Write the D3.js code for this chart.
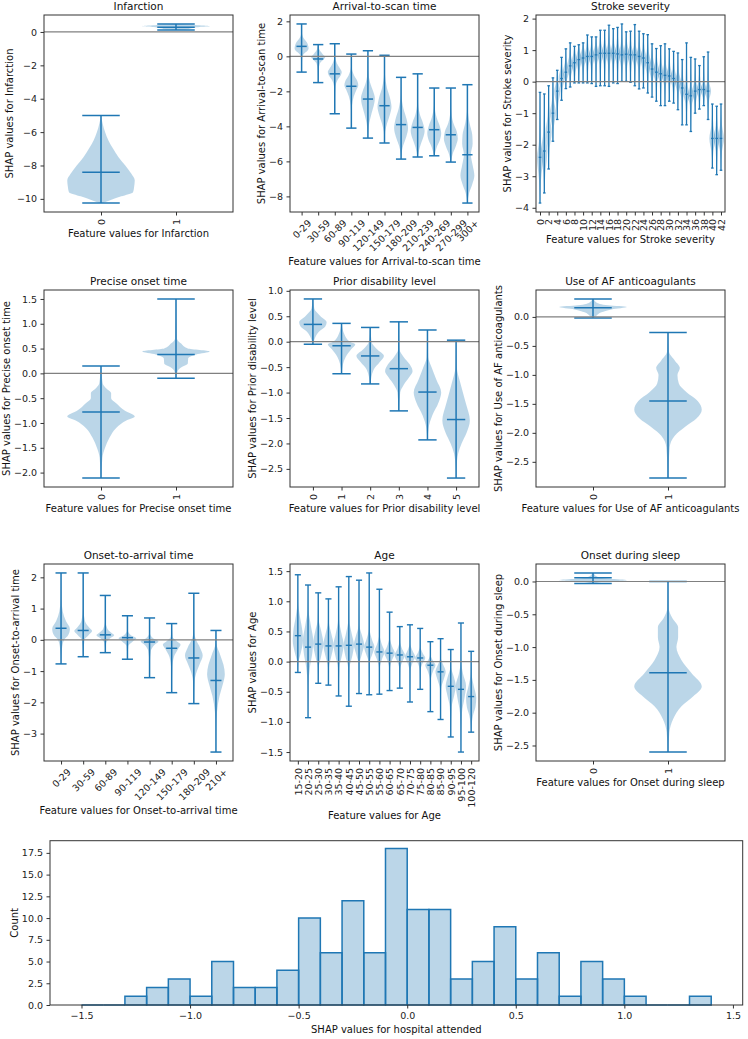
<!DOCTYPE html>
<html>
<head>
<meta charset="utf-8">
<style>
  body { margin: 0; background: #fff; font-family: "DejaVu Sans", sans-serif; }
  svg { display: block; }
  .title { font-size: 10.5px; text-anchor: middle; fill: #111; }
  .lab { font-size: 10px; text-anchor: middle; fill: #111; }
  .tick text { font-size: 9.5px; fill: #222; font-family: "DejaVu Sans", sans-serif; }
</style>
</head>
<body>
<script src="https://cdn.jsdelivr.net/npm/d3@7"></script>
<script>

// ---------- data ----------
// violin shapes are [value, relative width] pairs, top to bottom

var infLabels = ["0", "1"];
var infMax = [-5.0, 0.48], infMin = [-10.25, 0.12], infMed = [-8.4, 0.28];
var infShapes = [
  [[-5.0,0],[-5.5,0.05],[-6.0,0.12],[-6.5,0.22],[-7.0,0.36],[-7.5,0.52],[-8.0,0.72],[-8.5,0.9],[-8.9,1.0],[-9.3,0.98],[-9.6,0.95],[-9.85,0.6],[-10.1,0.25],[-10.25,0.05]],
  [[0.48,0.05],[0.44,0.3],[0.38,0.8],[0.34,1.0],[0.3,0.7],[0.22,0.45],[0.15,0.3],[0.12,0.1]]
];
var infTicks = [0, -2, -4, -6, -8, -10];

var arrLabels = ["0-29","30-59","60-89","90-119","120-149","150-179","180-209","210-239","240-269","270-299","300+"];
var arrMax = [1.85, 0.67, 0.72, 0.13, 0.32, 0.06, -1.2, -1.0, -1.81, -1.81, -1.62];
var arrMin = [-0.9, -1.5, -3.28, -4.1, -4.67, -4.95, -5.87, -5.75, -5.68, -6.04, -8.38];
var arrMed = [0.57, -0.15, -1.0, -1.71, -2.44, -2.82, -3.9, -4.06, -4.19, -4.48, -5.62];
var arrShapes = [
  [[1.85,0.02],[1.3,0.06],[1.0,0.35],[0.8,0.75],[0.6,0.95],[0.45,1.0],[0.3,0.8],[0.15,0.35],[0.0,0.12],[-0.5,0.04],[-0.9,0.01]],
  [[0.67,0.02],[0.4,0.15],[0.15,0.6],[-0.05,1.0],[-0.2,0.7],[-0.4,0.25],[-0.8,0.06],[-1.5,0.01]],
  [[0.72,0.01],[0.0,0.05],[-0.4,0.3],[-0.7,0.75],[-0.9,1.0],[-1.1,0.85],[-1.35,0.4],[-1.7,0.12],[-2.3,0.04],[-3.28,0.01]],
  [[0.13,0.01],[-0.6,0.05],[-1.1,0.4],[-1.45,0.9],[-1.65,1.0],[-1.9,0.75],[-2.3,0.35],[-2.8,0.1],[-3.4,0.03],[-4.1,0.01]],
  [[0.32,0.01],[-0.8,0.05],[-1.5,0.3],[-2.0,0.75],[-2.4,1.0],[-2.8,0.85],[-3.3,0.5],[-3.8,0.2],[-4.3,0.05],[-4.67,0.01]],
  [[0.06,0.01],[-1.0,0.06],[-1.8,0.35],[-2.4,0.8],[-2.9,1.0],[-3.3,0.8],[-3.8,0.4],[-4.3,0.1],[-4.95,0.01]],
  [[-1.2,0.01],[-2.2,0.05],[-3.0,0.35],[-3.6,0.8],[-4.1,1.0],[-4.6,0.75],[-5.1,0.3],[-5.5,0.08],[-5.87,0.01]],
  [[-1.0,0.01],[-2.5,0.04],[-3.3,0.3],[-3.8,0.75],[-4.25,1.0],[-4.7,0.75],[-5.2,0.3],[-5.75,0.02]],
  [[-1.81,0.01],[-2.8,0.05],[-3.5,0.35],[-4.0,0.8],[-4.4,1.0],[-4.8,0.8],[-5.2,0.35],[-5.68,0.03]],
  [[-1.81,0.01],[-3.0,0.05],[-3.8,0.35],[-4.3,0.85],[-4.7,1.0],[-5.1,0.75],[-5.6,0.25],[-6.04,0.02]],
  [[-1.62,0.01],[-3.0,0.05],[-3.8,0.3],[-4.5,0.7],[-5.0,0.75],[-5.6,0.5],[-6.2,0.75],[-6.8,1.0],[-7.3,0.7],[-7.8,0.25],[-8.38,0.02]]
];
var arrTicks = [2, 0, -2, -4, -6, -8];

var strokeTicks = [0,2,4,6,8,10,12,14,16,18,20,22,24,26,28,30,32,34,36,38,40,42];
var strokeMax = [-0.34,-0.39,-0.13,0.12,0.36,0.77,1.04,1.23,1.12,1.17,1.23,1.48,1.42,1.42,1.63,1.63,1.79,1.68,1.72,1.83,1.58,1.6,1.81,1.6,1.52,1.49,1.2,1.05,1.14,1.2,1.04,0.96,0.91,0.7,1.23,0.77,0.72,0.51,0.79,0.94,-0.71,-0.78,-0.71];
var strokeMin = [-3.85,-3.53,-2.77,-1.89,-1.2,-0.59,-0.22,-0.17,-0.04,-0.04,-0.04,-0.04,-0.06,-0.15,-0.13,-0.13,-0.15,-0.04,-0.06,0.01,0.01,-0.02,-0.13,-0.23,-0.2,-0.36,-0.49,-0.62,-0.76,-0.76,-0.62,-0.68,-0.89,-1.37,-1.37,-1.58,-1.0,-0.87,-0.76,-1.2,-2.74,-2.95,-2.81];
var strokeMed = [-2.4,-2.2,-1.6,-1.0,-0.3,0.1,0.3,0.5,0.6,0.7,0.75,0.8,0.8,0.85,0.9,0.9,0.9,0.9,0.88,0.85,0.87,0.85,0.85,0.8,0.75,0.6,0.4,0.3,0.25,0.2,0.18,0.1,0.0,-0.2,-0.4,-0.45,-0.3,-0.25,-0.25,-0.3,-1.8,-1.8,-1.8];
var strokeHi = [-1.9,-1.6,-1.1,-0.6,0.0,0.4,0.6,0.8,0.9,1.0,1.05,1.1,1.1,1.15,1.2,1.2,1.2,1.2,1.2,1.2,1.2,1.15,1.15,1.1,1.05,0.95,0.75,0.65,0.6,0.55,0.5,0.4,0.3,0.1,-0.1,-0.15,0.0,0.0,0.0,0.0,-1.4,-1.4,-1.4];
var strokeLo = [-3.1,-2.9,-2.1,-1.4,-0.7,-0.2,0.05,0.2,0.3,0.4,0.45,0.5,0.5,0.55,0.55,0.55,0.55,0.55,0.55,0.5,0.5,0.5,0.5,0.45,0.4,0.25,0.1,0.0,-0.05,-0.1,-0.1,-0.2,-0.3,-0.5,-0.7,-0.75,-0.6,-0.5,-0.5,-0.6,-2.2,-2.2,-2.2];
var strokeYTicks = [2, 1, 0, -1, -2, -3, -4];

var preLabels = ["0", "1"];
var preMax = [0.15, 1.5], preMin = [-2.11, -0.1], preMed = [-0.78, 0.38];
var preShapes = [
  [[0.15,0.01],[-0.2,0.05],[-0.3,0.15],[-0.4,0.3],[-0.5,0.3],[-0.6,0.45],[-0.75,0.7],[-0.87,1.0],[-0.95,0.75],[-1.1,0.45],[-1.3,0.25],[-1.5,0.12],[-1.7,0.04],[-2.11,0.01]],
  [[1.5,0.01],[0.7,0.03],[0.6,0.15],[0.5,0.35],[0.44,1.0],[0.38,0.6],[0.3,0.36],[0.2,0.35],[0.12,0.15],[0.05,0.05],[-0.1,0.01]]
];
var preTicks = [1.5, 1.0, 0.5, 0.0, -0.5, -1.0, -1.5, -2.0];

var priLabels = ["0", "1", "2", "3", "4", "5"];
var priMax = [0.84, 0.36, 0.28, 0.39, 0.23, 0.03];
var priMin = [-0.05, -0.63, -0.83, -1.36, -1.93, -2.68];
var priMed = [0.34, -0.08, -0.28, -0.53, -0.99, -1.53];
var priShapes = [
  [[0.84,0.02],[0.65,0.1],[0.5,0.55],[0.38,1.0],[0.3,0.9],[0.2,0.45],[0.1,0.2],[-0.05,0.03]],
  [[0.36,0.02],[0.15,0.2],[0.0,0.6],[-0.05,1.0],[-0.15,0.7],[-0.3,0.3],[-0.45,0.1],[-0.63,0.02]],
  [[0.28,0.02],[0.0,0.1],[-0.15,0.5],[-0.28,1.0],[-0.4,0.7],[-0.55,0.25],[-0.83,0.02]],
  [[0.39,0.02],[-0.15,0.05],[-0.3,0.35],[-0.45,0.8],[-0.58,1.0],[-0.7,0.75],[-0.85,0.35],[-1.0,0.1],[-1.36,0.02]],
  [[0.23,0.01],[-0.3,0.05],[-0.5,0.3],[-0.75,0.65],[-1.0,1.0],[-1.2,0.8],[-1.45,0.35],[-1.7,0.08],[-1.93,0.02]],
  [[0.03,0.01],[-0.5,0.05],[-0.8,0.3],[-1.2,0.7],[-1.55,1.0],[-1.8,0.75],[-2.0,0.4],[-2.2,0.15],[-2.45,0.04],[-2.68,0.01]]
];
var priTicks = [1.0, 0.5, 0.0, -0.5, -1.0, -1.5, -2.0, -2.5];

var afLabels = ["0", "1"];
var afMax = [0.31, -0.27], afMin = [-0.02, -2.78], afMed = [0.16, -1.45];
var afShapes = [
  [[0.31,0.02],[0.25,0.1],[0.2,0.45],[0.17,1.0],[0.13,0.55],[0.08,0.25],[0.02,0.1],[-0.02,0.02]],
  [[-0.27,0.01],[-0.6,0.03],[-0.75,0.2],[-0.88,0.35],[-1.0,0.28],[-1.15,0.32],[-1.3,0.55],[-1.45,0.88],[-1.6,1.0],[-1.75,0.85],[-1.9,0.5],[-2.05,0.2],[-2.25,0.05],[-2.78,0.01]]
];
var afTicks = [0.0, -0.5, -1.0, -1.5, -2.0, -2.5];

var otaLabels = ["0-29","30-59","60-89","90-119","120-149","150-179","180-209","210+"];
var otaMax = [2.14, 2.14, 1.42, 0.77, 0.7, 0.52, 1.49, 0.3];
var otaMin = [-0.77, -0.54, -0.41, -0.62, -1.21, -1.69, -2.04, -3.59];
var otaMed = [0.37, 0.3, 0.16, 0.07, -0.07, -0.27, -0.58, -1.3];
var otaShapes = [
  [[2.14,0.01],[1.3,0.05],[0.9,0.2],[0.6,0.55],[0.35,1.0],[0.15,0.8],[0.0,0.35],[-0.3,0.1],[-0.77,0.01]],
  [[2.14,0.01],[1.0,0.03],[0.6,0.2],[0.4,0.65],[0.28,1.0],[0.15,0.6],[0.0,0.15],[-0.54,0.01]],
  [[1.42,0.01],[0.6,0.03],[0.35,0.25],[0.2,0.8],[0.15,1.0],[0.05,0.55],[-0.1,0.1],[-0.41,0.01]],
  [[0.77,0.01],[0.3,0.05],[0.15,0.4],[0.05,1.0],[-0.05,0.6],[-0.2,0.1],[-0.62,0.01]],
  [[0.7,0.01],[0.2,0.05],[0.05,0.4],[-0.05,1.0],[-0.15,0.6],[-0.35,0.15],[-0.7,0.04],[-1.21,0.01]],
  [[0.52,0.01],[0.1,0.1],[-0.05,0.6],[-0.15,1.0],[-0.3,0.7],[-0.55,0.25],[-0.9,0.07],[-1.69,0.01]],
  [[1.49,0.01],[0.3,0.03],[0.0,0.25],[-0.25,0.7],[-0.5,1.0],[-0.75,0.7],[-1.0,0.35],[-1.3,0.1],[-2.04,0.01]],
  [[0.3,0.01],[-0.1,0.05],[-0.5,0.5],[-0.8,0.85],[-1.1,1.0],[-1.4,0.8],[-1.8,0.4],[-2.3,0.12],[-2.8,0.03],[-3.59,0.01]]
];
var otaTicks = [2, 1, 0, -1, -2, -3];

var ageLabels = ["15-20","20-25","25-30","30-35","35-40","40-45","45-50","50-55","55-60","60-65","65-70","70-75","75-80","80-85","85-90","90-95","95-100","100-120"];
var ageMax = [1.44, 1.27, 1.14, 1.04, 1.24, 1.41, 1.35, 1.47, 1.2, 0.82, 0.58, 0.61, 0.55, 0.33, 0.38, 0.2, 0.64, 0.17];
var ageMin = [-0.18, -0.93, -0.36, -0.39, -0.57, -0.74, -0.53, -0.55, -0.54, -0.48, -0.44, -0.67, -0.46, -0.83, -0.96, -1.25, -1.5, -1.17];
var ageMed = [0.43, 0.24, 0.29, 0.26, 0.26, 0.27, 0.29, 0.24, 0.16, 0.14, 0.11, 0.08, 0.06, -0.06, -0.17, -0.41, -0.46, -0.58];
var ageShapes = [
  [[1.44,0.01],[1.0,0.05],[0.75,0.4],[0.5,0.9],[0.35,1.0],[0.15,0.6],[0.0,0.15],[-0.18,0.02]],
  [[1.27,0.01],[0.85,0.1],[0.6,0.55],[0.35,1.0],[0.15,0.85],[-0.1,0.35],[-0.4,0.08],[-0.93,0.01]],
  [[1.14,0.01],[0.7,0.1],[0.5,0.6],[0.3,1.0],[0.1,0.6],[-0.1,0.1],[-0.36,0.01]],
  [[1.04,0.01],[0.65,0.1],[0.45,0.6],[0.28,1.0],[0.1,0.6],[-0.1,0.1],[-0.39,0.01]],
  [[1.24,0.01],[0.7,0.1],[0.45,0.6],[0.28,1.0],[0.1,0.65],[-0.1,0.15],[-0.57,0.01]],
  [[1.41,0.01],[0.7,0.1],[0.45,0.6],[0.28,1.0],[0.1,0.7],[-0.1,0.15],[-0.74,0.01]],
  [[1.35,0.01],[0.6,0.1],[0.4,0.7],[0.28,1.0],[0.12,0.55],[-0.05,0.1],[-0.53,0.01]],
  [[1.47,0.01],[0.55,0.08],[0.35,0.6],[0.25,1.0],[0.12,0.6],[0.0,0.15],[-0.55,0.01]],
  [[1.2,0.01],[0.45,0.05],[0.28,0.5],[0.16,1.0],[0.05,0.55],[-0.1,0.1],[-0.54,0.01]],
  [[0.82,0.01],[0.4,0.05],[0.25,0.5],[0.14,1.0],[0.03,0.5],[-0.1,0.1],[-0.48,0.01]],
  [[0.58,0.01],[0.35,0.05],[0.2,0.5],[0.11,1.0],[0.0,0.5],[-0.12,0.1],[-0.44,0.01]],
  [[0.61,0.01],[0.3,0.05],[0.18,0.5],[0.08,1.0],[-0.02,0.5],[-0.15,0.1],[-0.67,0.01]],
  [[0.55,0.01],[0.25,0.05],[0.14,0.5],[0.06,1.0],[-0.03,0.45],[-0.15,0.08],[-0.46,0.01]],
  [[0.33,0.01],[0.1,0.08],[0.0,0.6],[-0.06,1.0],[-0.15,0.55],[-0.3,0.1],[-0.83,0.01]],
  [[0.38,0.01],[0.05,0.08],[-0.05,0.5],[-0.17,1.0],[-0.3,0.6],[-0.45,0.12],[-0.96,0.01]],
  [[0.2,0.01],[-0.1,0.1],[-0.25,0.6],[-0.41,1.0],[-0.55,0.7],[-0.75,0.2],[-1.25,0.01]],
  [[0.64,0.01],[0.0,0.05],[-0.2,0.4],[-0.4,1.0],[-0.6,0.7],[-0.85,0.2],[-1.5,0.01]],
  [[0.17,0.01],[-0.2,0.1],[-0.4,0.5],[-0.6,1.0],[-0.75,0.85],[-0.9,0.35],[-1.17,0.02]]
];
var ageTicks = [1.5, 1.0, 0.5, 0.0, -0.5, -1.0, -1.5];

var slpLabels = ["0", "1"];
var slpMax = [0.13, 0.0], slpMin = [-0.03, -2.6], slpMed = [0.055, -1.39];
var slpShapes = [
  [[0.13,0.02],[0.08,0.1],[0.04,0.5],[0.02,1.0],[0.0,0.4],[-0.03,0.05]],
  [[0.0,0.01],[-0.4,0.02],[-0.55,0.12],[-0.7,0.3],[-0.85,0.3],[-1.0,0.25],[-1.2,0.4],[-1.4,0.7],[-1.6,1.0],[-1.75,0.75],[-1.9,0.4],[-2.1,0.15],[-2.3,0.04],[-2.6,0.01]]
];
var slpTicks = [0.0, -0.5, -1.0, -1.5, -2.0, -2.5];

var histBinStart = [-1.5,-1.4,-1.3,-1.2,-1.1,-1.0,-0.9,-0.8,-0.7,-0.6,-0.5,-0.4,-0.3,-0.2,-0.1,0.0,0.1,0.2,0.3,0.4,0.5,0.6,0.7,0.8,0.9,1.0,1.1,1.2,1.3];
var histCounts   = [0,0,1,2,3,1,5,2,2,4,10,6,12,6,18,11,11,3,5,9,3,6,1,5,3,1,0,0,1];
var histBinWidth = 0.1;
var histXTicks = [-1.5, -1.0, -0.5, 0.0, 0.5, 1.0, 1.5];
var histYTicks = [0, 2.5, 5, 7.5, 10, 12.5, 15, 17.5];

// ---------- layout ----------
var blue = "#1f77b4";
var colX = [44, 290, 536], rowY = [15, 290, 564], boxW = 189, boxH = 197;
var tickLen = 3.5, tickPad = 3.5;

var svg = d3.select("body").append("svg")
    .attr("width", 748).attr("height", 1039);

function styleAxis(g) {
  g.select(".domain").remove();
  g.selectAll(".tick line").attr("stroke", "#333");
}

function violinPanel(p) {
  var left = colX[p.col], top = rowY[p.row];
  var pos = p.pos || d3.range(p.shapes.length);
  var lo = d3.min(p.min), hi = d3.max(p.max), pad = (hi - lo) * 0.05;
  var x = d3.scaleLinear().domain([pos[0] - p.xm, pos[pos.length - 1] + p.xm]).range([left, left + boxW]);
  var y = d3.scaleLinear().domain([lo - pad, hi + pad]).range([top + boxH, top]);

  var g = svg.append("g");

  // bodies
  p.shapes.forEach(function(s, i) {
    var area = d3.area().curve(d3.curveMonotoneY)
      .y(function(d) { return y(d[0]); })
      .x0(function(d) { return x(pos[i] - d[1] * p.body); })
      .x1(function(d) { return x(pos[i] + d[1] * p.body); });
    g.append("path").attr("d", area(s))
      .attr("fill", blue).attr("fill-opacity", 0.3);
  });

  // bars, caps, medians
  var lw = p.lw || 1.5;
  pos.forEach(function(c, i) {
    g.append("line").attr("x1", x(c)).attr("x2", x(c))
      .attr("y1", y(p.max[i])).attr("y2", y(p.min[i]));
    [p.max[i], p.min[i], p.med[i]].forEach(function(v) {
      g.append("line").attr("x1", x(c - p.cap)).attr("x2", x(c + p.cap))
        .attr("y1", y(v)).attr("y2", y(v));
    });
  });
  g.selectAll("line").attr("stroke", blue).attr("stroke-width", lw);

  // zero line
  svg.append("line").attr("x1", left).attr("x2", left + boxW)
    .attr("y1", y(0)).attr("y2", y(0))
    .attr("stroke", "#808080").attr("stroke-width", 1.2);

  // y axis
  var ya = svg.append("g").attr("transform", "translate(" + left + ",0)")
    .call(d3.axisLeft(y).tickValues(p.yticks).tickSize(tickLen).tickPadding(tickPad)
      .tickFormat(d3.format(p.yfmt)));
  styleAxis(ya);

  // x axis
  var xa = svg.append("g").attr("transform", "translate(0," + (top + boxH) + ")")
    .call(d3.axisBottom(x).tickValues(p.xtickPos).tickSize(tickLen)
      .tickFormat(function(d, i) { return p.xtickText[i]; }));
  styleAxis(xa);
  if (p.rot === 90) {
    xa.selectAll(".tick text")
      .attr("y", 0).attr("x", -(tickLen + tickPad)).attr("dy", "0.35em")
      .attr("transform", "rotate(-90)").style("text-anchor", "end");
  } else {
    xa.selectAll(".tick text")
      .attr("y", 0).attr("x", 0).attr("dy", "0.35em").style("text-anchor", "middle")
      .attr("transform", function() {
        var L = this.getComputedTextLength(), h = 7;
        var off = (L + h) / (2 * Math.SQRT2);
        return "translate(0," + (tickLen + tickPad + off) + ") rotate(-45)";
      });
  }

  // frame
  svg.append("rect").attr("x", left).attr("y", top).attr("width", boxW).attr("height", boxH)
    .attr("fill", "none").attr("stroke", "#333").attr("stroke-width", 1);

  // texts
  svg.append("text").attr("class", "title")
    .attr("x", left + boxW / 2).attr("y", top - 5).text(p.title);

  var yb = ya.node().getBBox();
  var lx = left + yb.x - 4;
  svg.append("text").attr("class", "lab")
    .attr("transform", "translate(" + lx + "," + (top + boxH / 2) + ") rotate(-90)")
    .text("SHAP values for " + p.title);

  var xb = xa.node().getBBox();
  svg.append("text").attr("class", "lab")
    .attr("x", left + boxW / 2).attr("y", top + boxH + xb.y + xb.height + 4 + 7.6)
    .text("Feature values for " + p.title);
}

violinPanel({ title: "Infarction", col: 0, row: 0, shapes: infShapes, min: infMin, max: infMax, med: infMed,
  xm: 0.76, body: 0.45, cap: 0.25, yticks: infTicks, yfmt: "d",
  xtickPos: [0, 1], xtickText: infLabels, rot: 90 });

violinPanel({ title: "Arrival-to-scan time", col: 1, row: 0, shapes: arrShapes, min: arrMin, max: arrMax, med: arrMed,
  xm: 0.7, body: 0.42, cap: 0.31, yticks: arrTicks, yfmt: "d",
  xtickPos: d3.range(arrLabels.length), xtickText: arrLabels, rot: 45 });

violinPanel({ title: "Stroke severity", col: 2, row: 0, shapes: strokeMed.map(function(m, i) {
    return [[strokeMax[i], 0.02], [strokeHi[i], 0.35], [m, 1], [strokeLo[i], 0.35], [strokeMin[i], 0.02]];
  }), min: strokeMin, max: strokeMax, med: strokeMed,
  xm: 0.93, body: 0.7, cap: 0.3, lw: 1.3, yticks: strokeYTicks, yfmt: "d",
  xtickPos: strokeTicks, xtickText: strokeTicks.map(String), rot: 90 });

violinPanel({ title: "Precise onset time", col: 0, row: 1, shapes: preShapes, min: preMin, max: preMax, med: preMed,
  xm: 0.76, body: 0.45, cap: 0.25, yticks: preTicks, yfmt: ".1f",
  xtickPos: [0, 1], xtickText: preLabels, rot: 90 });

violinPanel({ title: "Prior disability level", col: 1, row: 1, shapes: priShapes, min: priMin, max: priMax, med: priMed,
  xm: 0.8, body: 0.48, cap: 0.32, yticks: priTicks, yfmt: ".1f",
  xtickPos: d3.range(priLabels.length), xtickText: priLabels, rot: 90 });

violinPanel({ title: "Use of AF anticoagulants", col: 2, row: 1, shapes: afShapes, min: afMin, max: afMax, med: afMed,
  xm: 0.76, body: 0.45, cap: 0.25, yticks: afTicks, yfmt: ".1f",
  xtickPos: [0, 1], xtickText: afLabels, rot: 90 });

violinPanel({ title: "Onset-to-arrival time", col: 0, row: 2, shapes: otaShapes, min: otaMin, max: otaMax, med: otaMed,
  xm: 0.77, body: 0.4, cap: 0.25, yticks: otaTicks, yfmt: "d",
  xtickPos: d3.range(otaLabels.length), xtickText: otaLabels, rot: 45 });

violinPanel({ title: "Age", col: 1, row: 2, shapes: ageShapes, min: ageMin, max: ageMax, med: ageMed,
  xm: 0.77, body: 0.5, cap: 0.3, lw: 1.4, yticks: ageTicks, yfmt: ".1f",
  xtickPos: d3.range(ageLabels.length), xtickText: ageLabels, rot: 90 });

violinPanel({ title: "Onset during sleep", col: 2, row: 2, shapes: slpShapes, min: slpMin, max: slpMax, med: slpMed,
  xm: 0.76, body: 0.45, cap: 0.25, yticks: slpTicks, yfmt: ".1f",
  xtickPos: [0, 1], xtickText: slpLabels, rot: 90 });

// ---------- histogram ----------
(function() {
  var left = 50, right = 742.7, top = 840.7, bottom = 1005;
  var lo = histBinStart[0], hi = histBinStart[histBinStart.length - 1] + histBinWidth;
  var pad = (hi - lo) * 0.05;
  var x = d3.scaleLinear().domain([lo - pad, hi + pad]).range([left, right]);
  var y = d3.scaleLinear().domain([0, d3.max(histCounts) * 1.05]).range([bottom, top]);

  svg.append("g").selectAll("path").data(histCounts).enter().append("path")
    .attr("d", function(d, i) {
      var x0 = x(histBinStart[i]), x1 = x(histBinStart[i] + histBinWidth);
      return "M" + x0 + "," + y(0) + "V" + y(d) + "H" + x1 + "V" + y(0) + "Z";
    })
    .attr("fill", blue).attr("fill-opacity", 0.3)
    .attr("stroke", blue).attr("stroke-width", 1.5);

  var ya = svg.append("g").attr("transform", "translate(" + left + ",0)")
    .call(d3.axisLeft(y).tickValues(histYTicks).tickSize(tickLen).tickPadding(tickPad).tickFormat(d3.format(".1f")));
  styleAxis(ya);
  var xa = svg.append("g").attr("transform", "translate(0," + bottom + ")")
    .call(d3.axisBottom(x).tickValues(histXTicks).tickSize(tickLen).tickPadding(tickPad).tickFormat(d3.format(".1f")));
  styleAxis(xa);

  svg.append("rect").attr("x", left).attr("y", top).attr("width", right - left).attr("height", bottom - top)
    .attr("fill", "none").attr("stroke", "#333").attr("stroke-width", 1);

  var yb = ya.node().getBBox();
  svg.append("text").attr("class", "lab")
    .attr("transform", "translate(" + (left + yb.x - 4) + "," + ((top + bottom) / 2) + ") rotate(-90)")
    .text("Count");
  var xb = xa.node().getBBox();
  svg.append("text").attr("class", "lab")
    .attr("x", (left + right) / 2).attr("y", bottom + xb.y + xb.height + 4 + 8.5)
    .text("SHAP values for hospital attended");
})();

</script>
</body>
</html>
